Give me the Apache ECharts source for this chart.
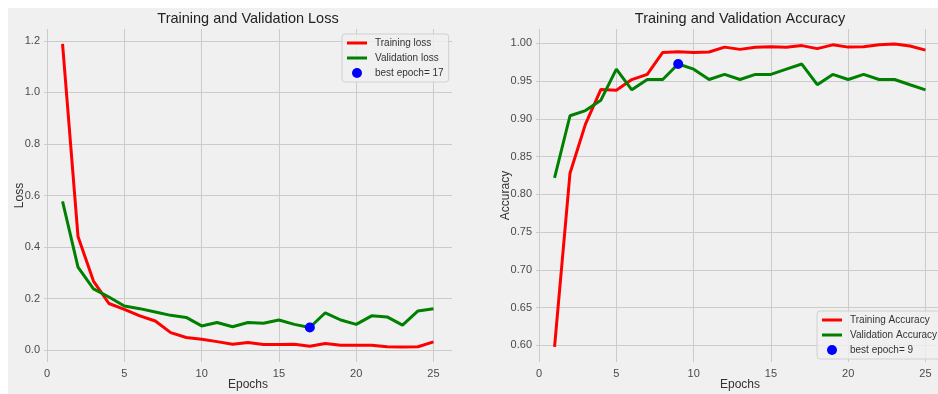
<!DOCTYPE html>
<html>
<head>
<meta charset="utf-8">
<script src="https://cdn.jsdelivr.net/npm/echarts@6/dist/echarts.min.js"></script>
<style>
  html, body { margin: 0; padding: 0; background: #ffffff; width: 938px; height: 394px; overflow: hidden; }
  #frame { position: absolute; left: 8px; top: 8px; width: 940px; height: 390px; background: #f0f0f0; }
  #chart { position: absolute; left: 0; top: 0; width: 940px; height: 390px; }
</style>
</head>
<body>
<div id="frame"><div id="chart"></div></div>
<script>
const epochs = [1,2,3,4,5,6,7,8,9,10,11,12,13,14,15,16,17,18,19,20,21,22,23,24,25];
const trainLoss = [1.188,0.441,0.268,0.181,0.158,0.133,0.113,0.068,0.049,0.042,0.033,0.023,0.030,0.022,0.022,0.023,0.015,0.026,0.019,0.019,0.019,0.013,0.012,0.013,0.032];
const valLoss = [0.577,0.322,0.238,0.206,0.171,0.161,0.148,0.135,0.127,0.094,0.107,0.091,0.107,0.104,0.117,0.100,0.088,0.145,0.117,0.100,0.133,0.129,0.097,0.152,0.161];
const trainAcc = [0.598,0.828,0.893,0.939,0.938,0.952,0.959,0.988,0.989,0.988,0.9886,0.995,0.992,0.9947,0.9956,0.9947,0.997,0.993,0.998,0.995,0.9956,0.998,0.999,0.9965,0.991];
const valAcc = [0.8219,0.9041,0.9110,0.9247,0.9658,0.9384,0.9521,0.9521,0.9726,0.9658,0.9521,0.9589,0.9521,0.9589,0.9589,0.9658,0.9726,0.9452,0.9589,0.9521,0.9589,0.9521,0.9521,0.9452,0.9384];
const bestLossEpoch = 17, bestLossValue = 0.088;
const bestAccEpoch = 9, bestAccValue = 0.9726;
const xTicks = [0,5,10,15,20,25];
const lossTicks = [0,0.2,0.4,0.6,0.8,1.0,1.2];
const accTicks = [0.60,0.65,0.70,0.75,0.80,0.85,0.90,0.95,1.00];

const FONT = '"Liberation Sans", Arial, sans-serif';
const gridColor = '#cbcbcb';
const labelColor = '#4a4a4a';
const LINE_ICON = 'path://M0,0 L0,0 M0,3.5 L20,3.5 L20,6.5 L0,6.5 Z M20,10 L20,10';

function xAxisCfg(idx) {
  return {
    type: 'value', gridIndex: idx, min: -0.2, max: 26.2,
    name: 'Epochs', nameLocation: 'middle', nameGap: 17, nameMoveOverlap: false,
    nameTextStyle: { fontFamily: FONT, fontSize: 12, color: '#333', verticalAlign: 'top' },
    axisLine: { show: false },
    axisTick: { show: false, customValues: xTicks },
    axisLabel: { customValues: xTicks, fontFamily: FONT, fontSize: 11, color: labelColor, margin: 6 },
    splitLine: { show: true, lineStyle: { color: gridColor, width: 1 } }
  };
}
function yAxisCfg(idx, name, min, max, ticks, dec, gap) {
  return {
    type: 'value', gridIndex: idx, min: min, max: max,
    name: name, nameLocation: 'middle', nameGap: gap, nameMoveOverlap: false,
    nameTextStyle: { fontFamily: FONT, fontSize: 12, color: '#333' },
    axisLine: { show: false },
    axisTick: { show: false, customValues: ticks },
    axisLabel: { customValues: ticks, fontFamily: FONT, fontSize: 11, color: labelColor, margin: 4,
      formatter: v => v.toFixed(dec) },
    splitLine: { show: true, lineStyle: { color: gridColor, width: 1 } }
  };
}
function legendCfg(names, left, top) {
  return {
    orient: 'vertical', left: left, top: top,
    data: [
      { name: names[0], icon: LINE_ICON },
      { name: names[1], icon: LINE_ICON },
      { name: names[2], icon: 'circle' }
    ],
    itemWidth: 20, itemHeight: 10, itemGap: 5,
    padding: [4, 5, 4, 5],
    backgroundColor: 'rgba(240,240,240,0.8)',
    borderColor: '#d0d0d0', borderWidth: 1, borderRadius: 3,
    textStyle: { fontFamily: FONT, fontSize: 10, color: '#333', padding: [0, 0, 0, 3] }
  };
}
function lineSeries(name, data, color, xi) {
  return {
    name: name, type: 'line', xAxisIndex: xi, yAxisIndex: xi,
    data: epochs.map((e, i) => [e, data[i]]),
    symbol: 'none', showSymbol: false,
    lineStyle: { color: color, width: 3 }, itemStyle: { color: color },
    animation: false
  };
}

const chart = echarts.init(document.getElementById('chart'), null, { renderer: 'canvas' });
chart.setOption({
  backgroundColor: 'transparent',
  animation: false,
  textStyle: { fontFamily: FONT },
  title: [
    { text: 'Training and Validation Loss', left: 235, top: -2, textAlign: 'center',
      textStyle: { fontFamily: FONT, fontSize: 14.5, fontWeight: 'normal', color: '#222' } },
    { text: 'Training and Validation Accuracy', left: 727, top: -2, textAlign: 'center',
      textStyle: { fontFamily: FONT, fontSize: 14.5, fontWeight: 'normal', color: '#222' } }
  ],
  grid: [
    { left: 36, top: 21, width: 408, height: 333, outerBoundsMode: 'none', containLabel: false },
    { left: 528, top: 21, width: 408, height: 333, outerBoundsMode: 'none', containLabel: false }
  ],
  xAxis: [xAxisCfg(0), xAxisCfg(1)],
  yAxis: [
    yAxisCfg(0, 'Loss', -0.046, 1.246, lossTicks, 1, 18),
    yAxisCfg(1, 'Accuracy', 0.578, 1.019, accTicks, 2, 24)
  ],
  legend: [
    legendCfg(['Training loss', 'Validation loss', 'best epoch= 17'], 334, 26),
    legendCfg(['Training Accuracy', 'Validation Accuracy', 'best epoch= 9'], 809, 303)
  ],
  series: [
    lineSeries('Training loss', trainLoss, '#ff0000', 0),
    lineSeries('Validation loss', valLoss, '#008000', 0),
    { name: 'best epoch= 17', type: 'scatter', xAxisIndex: 0, yAxisIndex: 0,
      data: [[bestLossEpoch, bestLossValue]], symbol: 'circle', symbolSize: 10,
      itemStyle: { color: '#0000ff', opacity: 1 }, z: 5 },
    lineSeries('Training Accuracy', trainAcc, '#ff0000', 1),
    lineSeries('Validation Accuracy', valAcc, '#008000', 1),
    { name: 'best epoch= 9', type: 'scatter', xAxisIndex: 1, yAxisIndex: 1,
      data: [[bestAccEpoch, bestAccValue]], symbol: 'circle', symbolSize: 10,
      itemStyle: { color: '#0000ff', opacity: 1 }, z: 5 }
  ]
});
</script>
</body>
</html>
